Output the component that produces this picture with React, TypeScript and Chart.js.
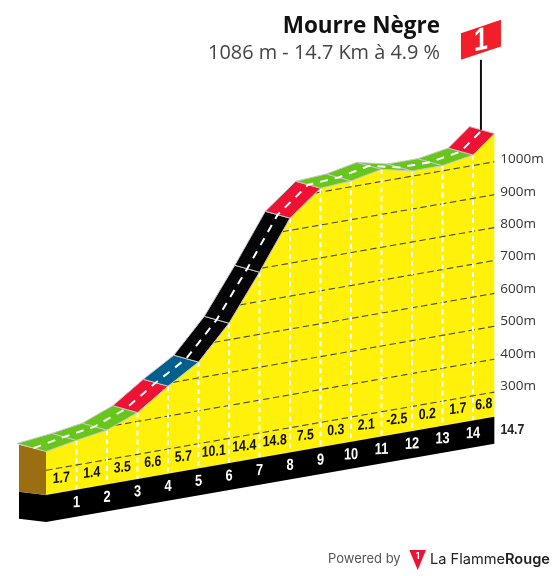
import React, { useEffect, useRef } from "react";
import { Chart, registerables } from "chart.js";

Chart.register(...registerables);

// ---- data ----
const TITLE = "Mourre Nègre";
const SUBTITLE = "1086 m - 14.7 Km à 4.9 %";
const DISTANCE_KM = [0, 1, 2, 3, 4, 5, 6, 7, 8, 9, 10, 11, 12, 13, 14, 14.7];
const ALTITUDE_M = [357, 375, 390, 427, 491, 548, 650, 789, 937, 1012, 1018, 1037, 1016, 1016, 1032, 1086];
const GRADIENT_PCT = ["1.7", "1.4", "3.5", "6.6", "5.7", "10.1", "14.4", "14.8", "7.5", "0.3", "2.1", "-2.5", "0.2", "1.7", "6.8"];
const SEGMENT_COLORS = [
  "#66c61c", "#66c61c", "#66c61c", "#ee1235", "#005f8c", "#050507", "#050507", "#050507",
  "#ee1235", "#66c61c", "#66c61c", "#66c61c", "#66c61c", "#66c61c", "#ee1235",
];
const KM_TICKS = [1, 2, 3, 4, 5, 6, 7, 8, 9, 10, 11, 12, 13, 14];
const ALT_TICKS = [300, 400, 500, 600, 700, 800, 900, 1000];
const TOTAL_LABEL = "14.7";

// ---- projection (oblique view): every mark goes through the chart's scales ----
const W = 555;
const H = 576;
const PX_PER_KM = 30.5;
const PX_PER_M = 0.329;
const LEFT_PX = 46; // x pixel of km 0
const Y_300M_KM0 = 470.3; // y pixel of 300 m at km 0
const TILT_M_PER_KM = 5.32 / PX_PER_M;
const BASE_ALT = 225;
const BAND_ALT = 143;
const ROAD_BACK_KM = -0.81;
const ROAD_BACK_M = 21;
const ROAD_START_DEPTH = 1.17;
const SIDE_BACK_KM = -0.885;
const SIDE_LOW_RISE_M = 10;

const xMin = -LEFT_PX / PX_PER_KM;
const xMax = (W - LEFT_PX) / PX_PER_KM;
const yMax = 300 + Y_300M_KM0 / PX_PER_M;
const yMin = 300 - (H - Y_300M_KM0) / PX_PER_M;

const pt = (km: number, alt: number, depth = 0) => ({
  x: km + depth * ROAD_BACK_KM,
  y: alt + km * TILT_M_PER_KM + depth * ROAD_BACK_M,
});

const lastKm = DISTANCE_KM[DISTANCE_KM.length - 1];
const summitAlt = ALTITUDE_M[ALTITUDE_M.length - 1];
const POLE_BACK_KM = 13.4 / PX_PER_KM;

const gridStartKm = (level: number) => {
  for (let i = 0; i < ALTITUDE_M.length - 1; i++) {
    const a = ALTITUDE_M[i];
    const b = ALTITUDE_M[i + 1];
    if (level <= a) return DISTANCE_KM[i];
    if (level <= b) return DISTANCE_KM[i] + ((level - a) / (b - a)) * (DISTANCE_KM[i + 1] - DISTANCE_KM[i]);
  }
  return lastKm;
};

const altAt = (km: number) => ALTITUDE_M[DISTANCE_KM.indexOf(km)];

const poly = (points: { x: number; y: number }[], color: string, stroke?: string, width = 0) => ({
  data: [...points, points[0]],
  backgroundColor: color,
  borderColor: stroke ?? color,
  borderWidth: width,
  fill: "shape" as const,
  tension: 0,
  pointRadius: 0,
});

const line = (points: { x: number; y: number }[], color: string, width: number, dash: number[] = []) => ({
  data: points,
  borderColor: color,
  borderWidth: width,
  borderDash: dash,
  fill: false,
  tension: 0,
  pointRadius: 0,
});

const buildDatasets = () => {
  const sets: any[] = [];
  // left side of the block
  const firstAlt = ALTITUDE_M[0];
  const side = (km: number, alt: number, rise: number) => ({ x: km + SIDE_BACK_KM, y: alt + km * TILT_M_PER_KM + rise });
  sets.push(poly([pt(0, BAND_ALT), pt(0, BASE_ALT), side(0, BASE_ALT, SIDE_LOW_RISE_M), side(0, BAND_ALT, SIDE_LOW_RISE_M)], "#000000"));
  sets.push(poly([pt(0, firstAlt), pt(0, BASE_ALT), side(0, BASE_ALT, SIDE_LOW_RISE_M), side(0, firstAlt, ROAD_BACK_M)], "#9b6f11"));
  // yellow front face
  sets.push(poly([...DISTANCE_KM.map((k, i) => pt(k, ALTITUDE_M[i])), pt(lastKm, BASE_ALT), pt(0, BASE_ALT)], "#fff10a"));
  // altitude grid
  ALT_TICKS.forEach((a) => sets.push(line([pt(gridStartKm(a), a), pt(lastKm, a)], "#4a4a3a", 1.1, [6.5, 3.5])));
  // km dashed marks
  KM_TICKS.forEach((k) => sets.push(line([pt(k, altAt(k)), pt(k, BASE_ALT)], "#ffffff", 2, [5, 4])));
  // black band
  sets.push(poly([pt(0, BASE_ALT), pt(lastKm, BASE_ALT), pt(lastKm, BAND_ALT), pt(0, BAND_ALT)], "#000000"));
  // pole and flag geometry
  const poleKm = lastKm - POLE_BACK_KM;
  const poleBase = summitAlt + 6 / PX_PER_M;
  const poleTopAlt = poleBase + 70 / PX_PER_M;
  const flag = (dxPx: number, dyPx: number) => ({
    x: poleKm + dxPx / PX_PER_KM,
    y: poleTopAlt + poleKm * TILT_M_PER_KM + dyPx / PX_PER_M,
  });
  // road
  for (let i = 0; i < SEGMENT_COLORS.length; i++) {
    const k0 = DISTANCE_KM[i];
    const k1 = DISTANCE_KM[i + 1];
    const a0 = ALTITUDE_M[i];
    const a1 = ALTITUDE_M[i + 1];
    const backStart = i === 0 ? ROAD_START_DEPTH : 1;
    sets.push(poly([pt(k0, a0), pt(k1, a1), pt(k1, a1, 1), pt(k0, a0, backStart)], SEGMENT_COLORS[i], "#c6c6c6", 1));
  }
  // road centre line
  sets.push(line(DISTANCE_KM.map((k, i) => pt(k, ALTITUDE_M[i], 0.5)), "#ffffff", 2, [8, 7]));
  // pole and flag
  sets.push(line([pt(poleKm, poleBase), pt(poleKm, poleTopAlt)], "#111111", 2));
  sets.push(poly([flag(-20, 0), flag(20, 13.3), flag(20, 40), flag(-20, 26.7)], "#f01f29"));
  return sets.map((s, i) => ({ ...s, order: -i }));
};

const textPlugin = {
  id: "profileText",
  afterDatasetsDraw(chart: any) {
    const { ctx, scales } = chart;
    const px = (p: { x: number; y: number }) => ({ x: scales.x.getPixelForValue(p.x), y: scales.y.getPixelForValue(p.y) });
    const SANS = '"Liberation Sans"';
    const OPEN = '"Open Sans"';
    const skewed = (text: string, p: { x: number; y: number }, font: string, color: string, squeeze: number, skew: number) => {
      ctx.save();
      ctx.transform(squeeze, skew * squeeze, 0, 1, p.x, p.y);
      ctx.font = font;
      ctx.fillStyle = color;
      ctx.textAlign = "center";
      ctx.textBaseline = "middle";
      ctx.fillText(text, 0, 0);
      ctx.restore();
    };
    ctx.save();
    // gradients
    GRADIENT_PCT.forEach((g, i) => {
      const mid = (DISTANCE_KM[i] + DISTANCE_KM[i + 1]) / 2;
      skewed(g, px(pt(mid, BASE_ALT + 14 / PX_PER_M)), `bold 15px ${SANS}`, "#111111", 0.82, -0.1);
    });
    // km numbers
    KM_TICKS.forEach((k) => {
      skewed(String(k), px(pt(k, BASE_ALT - 13 / PX_PER_M)), `bold 16px ${SANS}`, "#ffffff", 0.8, -0.05);
    });
    // altitude labels
    ctx.textAlign = "left";
    ctx.textBaseline = "middle";
    ctx.font = `13.5px ${OPEN}`;
    ctx.fillStyle = "#333333";
    ALT_TICKS.forEach((a) => {
      const p = px(pt(lastKm, a));
      const up = 2.5 + ((1000 - a) / 700) * 3.5;
      ctx.fillText(`${a}m`, p.x + 6, p.y - up);
    });
    // total distance
    const t = px(pt(lastKm, BASE_ALT - 13 / PX_PER_M));
    skewed(TOTAL_LABEL, { x: t.x + 18, y: t.y }, `bold 15px ${SANS}`, "#222222", 0.82, 0);
    // title
    ctx.textAlign = "right";
    ctx.textBaseline = "middle";
    ctx.font = `bold 22.5px ${OPEN}`;
    ctx.fillStyle = "#111111";
    ctx.fillText(TITLE, 440, 27);
    ctx.font = `19.9px ${OPEN}`;
    ctx.fillStyle = "#444444";
    ctx.fillText(SUBTITLE, 440, 53);
    // credit
    ctx.textAlign = "left";
    ctx.font = "13px Inter";
    ctx.fillStyle = "#555555";
    ctx.fillText("Powered by", 328, 559.5);
    ctx.fillStyle = "#ee1235";
    ctx.beginPath();
    ctx.moveTo(409.3, 550);
    ctx.lineTo(426, 550);
    ctx.lineTo(417.7, 570);
    ctx.closePath();
    ctx.fill();
    ctx.fillStyle = "#ffffff";
    ctx.font = "bold 9px Inter";
    ctx.textAlign = "center";
    ctx.fillText("1", 417.7, 556.5);
    ctx.textAlign = "left";
    ctx.font = "14.6px Inter";
    ctx.fillStyle = "#222222";
    ctx.fillText("La Flamme", 430, 559.5);
    const w = ctx.measureText("La Flamme").width;
    ctx.font = "600 14.6px Inter";
    ctx.fillText("Rouge", 430 + w, 559.5);
    ctx.restore();
    // flag number
    const poleX = scales.x.getPixelForValue(lastKm - POLE_BACK_KM);
    skewed("1", { x: poleX, y: 41 }, `bold 32px ${SANS}`, "#ffffff", 0.78, -0.2);
  },
};

export default function App() {
  const ref = useRef<HTMLCanvasElement>(null);
  useEffect(() => {
    if (!ref.current) return;
    const chart = new Chart(ref.current, {
      type: "line",
      data: { datasets: buildDatasets() },
      plugins: [textPlugin],
      options: {
        responsive: false,
        animation: false,
        events: [],
        devicePixelRatio: 1,
        parsing: { xAxisKey: "x", yAxisKey: "y" },
        layout: { padding: 0 },
        plugins: { legend: { display: false }, tooltip: { enabled: false }, title: { display: false } },
        scales: {
          x: { type: "linear", display: false, min: xMin, max: xMax },
          y: { type: "linear", display: false, min: yMin, max: yMax },
        },
      },
    } as any);
    return () => chart.destroy();
  }, []);
  return (
    <div style={{ position: "fixed", left: 0, top: 0, width: W, height: H, background: "#fff", overflow: "hidden" }}>
      <canvas ref={ref} width={W} height={H} style={{ display: "block" }} />
    </div>
  );
}
